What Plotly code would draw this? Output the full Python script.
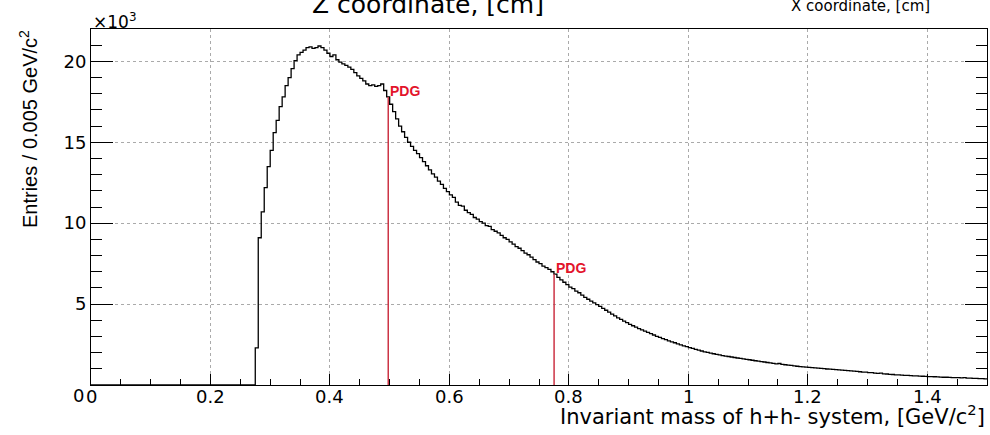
import plotly.graph_objects as go

# ---------------- data ----------------
BIN_LOW = 0.0
BIN_WIDTH = 0.005  # GeV/c^2

# entries per bin, in units of 10^3 (300 bins from 0 to 1.5)
entries_k = [
    0, 0, 0, 0, 0, 0, 0, 0, 0, 0,
    0, 0, 0, 0, 0, 0, 0, 0, 0, 0,
    0, 0, 0, 0, 0, 0, 0, 0, 0, 0,
    0, 0, 0, 0, 0, 0, 0, 0, 0, 0,
    0, 0, 0, 0, 0, 0, 0, 0, 0, 0,
    0, 0, 0, 0, 0, 2.3, 9.1, 10.7, 12.2, 13.5,
    14.5, 15.6, 16.35, 17.2, 17.8, 18.5, 19.0, 19.55, 20.05, 20.4,
    20.55, 20.7, 20.85, 20.9, 20.8, 20.85, 20.95, 20.85, 20.7, 20.5,
    20.3, 20.4, 20.1, 19.95, 19.85, 19.75, 19.65, 19.5, 19.3, 19.1,
    18.95, 18.8, 18.6, 18.5, 18.55, 18.45, 18.5, 18.6, 18.2, 17.8,
    17.35, 16.9, 16.45, 16.0, 15.65, 15.3, 15.0, 14.75, 14.5, 14.3,
    14.05, 13.8, 13.55, 13.3, 13.05, 12.85, 12.6, 12.4, 12.15, 11.95,
    11.75, 11.6, 11.3, 11.1, 11.05, 10.8, 10.65, 10.55, 10.35, 10.25,
    10.1, 10.0, 9.85, 9.8, 9.6, 9.5, 9.4, 9.25, 9.1, 9.0,
    8.85, 8.7, 8.55, 8.45, 8.3, 8.15, 8.05, 7.9, 7.75, 7.6,
    7.5, 7.35, 7.25, 7.15, 7.0, 6.85, 6.65, 6.5, 6.35, 6.2,
    6.05, 5.95, 5.8, 5.7, 5.55, 5.42, 5.3, 5.18, 5.07, 4.97,
    4.86, 4.74, 4.62, 4.5, 4.38, 4.27, 4.15, 4.05, 3.95, 3.85,
    3.75, 3.66, 3.58, 3.49, 3.41, 3.33, 3.25, 3.17, 3.09, 3.01,
    2.94, 2.87, 2.8, 2.73, 2.67, 2.61, 2.54, 2.48, 2.42, 2.37,
    2.31, 2.26, 2.2, 2.15, 2.1, 2.05, 2.01, 1.97, 1.93, 1.89,
    1.86, 1.82, 1.79, 1.76, 1.73, 1.7, 1.67, 1.64, 1.61, 1.58,
    1.56, 1.53, 1.5, 1.47, 1.44, 1.42, 1.39, 1.37, 1.34, 1.31,
    1.33, 1.27, 1.25, 1.23, 1.21, 1.18, 1.16, 1.13, 1.12, 1.1,
    1.09, 1.07, 1.06, 1.04, 1.03, 1.01, 0.99, 0.98, 0.96, 0.95,
    0.93, 0.92, 0.9, 0.89, 0.87, 0.86, 0.84, 0.82, 0.8, 0.79,
    0.77, 0.76, 0.74, 0.72, 0.74, 0.69, 0.68, 0.66, 0.65, 0.63,
    0.62, 0.61, 0.6, 0.59, 0.58, 0.57, 0.56, 0.55, 0.54, 0.53,
    0.52, 0.52, 0.51, 0.5, 0.49, 0.48, 0.48, 0.47, 0.46, 0.46,
    0.45, 0.44, 0.45, 0.43, 0.42, 0.41, 0.41, 0.4, 0.39, 0.38,
]

pdg_masses = [0.497611, 0.77526]   # K0 and rho0 PDG masses
pdg_labels = ["PDG", "PDG"]

x_tick_vals = [0, 0.2, 0.4, 0.6, 0.8, 1.0, 1.2, 1.4]
x_tick_text = ["0", "0.2", "0.4", "0.6", "0.8", "1", "1.2", "1.4"]
y_tick_vals = [5, 10, 15, 20]
y_tick_text = ["5", "10", "15", "20"]

X_RANGE = [0, 1.5]
Y_RANGE = [0, 22]

# ---------------- figure ----------------
TICK_FONT = dict(family="DejaVu Sans", size=18, color="black")

n = len(entries_k)
edges = [BIN_LOW + i * BIN_WIDTH for i in range(n + 1)]
hist_x = edges
hist_y = entries_k + [entries_k[-1]]

fig = go.Figure()
fig.add_trace(go.Scatter(
    x=hist_x, y=hist_y, mode="lines",
    line=dict(color="black", width=1.3, shape="hv"),
    hoverinfo="skip", showlegend=False,
))

for m, lab in zip(pdg_masses, pdg_labels):
    top = entries_k[int((m - BIN_LOW) / BIN_WIDTH)]
    fig.add_trace(go.Scatter(
        x=[m, m], y=[0, top], mode="lines",
        line=dict(color="#cc3344", width=1.5),
        hoverinfo="skip", showlegend=False,
    ))
    fig.add_annotation(
        x=m, y=top, xref="x", yref="y", text="<b>%s</b>" % lab,
        showarrow=False, xanchor="left", yanchor="bottom", yshift=-4,
        font=dict(family="Liberation Sans", size=14, color="#e3142b"),
    )

fig.update_xaxes(
    range=X_RANGE, showline=True, linecolor="black", linewidth=1, mirror=True,
    tickmode="array", tickvals=x_tick_vals, showticklabels=False,
    ticks="inside", ticklen=11, tickcolor="black", tickwidth=1,
    showgrid=True, gridcolor="#aaaaaa", griddash="dot", gridwidth=1,
    zeroline=False,
    minor=dict(dtick=0.05, tick0=0, ticks="inside", ticklen=6,
               tickcolor="black", showgrid=False),
)
fig.update_yaxes(
    range=Y_RANGE, showline=True, linecolor="black", linewidth=1, mirror="allticks",
    tickmode="array", tickvals=y_tick_vals, ticktext=y_tick_text,
    ticks="inside", ticklen=22, tickcolor="black", tickwidth=1,
    showgrid=True, gridcolor="#aaaaaa", griddash="dot", gridwidth=1,
    zeroline=False, tickfont=TICK_FONT,
    minor=dict(dtick=1, tick0=0, ticks="inside", ticklen=11,
               tickcolor="black", showgrid=False),
)

# x tick labels (placed closer to the axis than Plotly's default)
for v, t in zip(x_tick_vals, x_tick_text):
    fig.add_annotation(x=v, y=0, xref="x", yref="paper", text=t, showarrow=False,
                       xanchor="center", yanchor="top", yshift=1, font=TICK_FONT)

# y "0" label (drawn slightly below the axis as in the reference)
fig.add_annotation(x=0, y=0, xref="paper", yref="y", text="0", showarrow=False,
                   xanchor="right", yanchor="top", xshift=-5, yshift=2,
                   font=TICK_FONT)

# x10^3 exponent
fig.add_annotation(x=0, y=1, xref="paper", yref="paper", text="×10<sup>3</sup>",
                   showarrow=False, xanchor="left", yanchor="bottom", yshift=-5,
                   font=dict(family="DejaVu Sans", size=17, color="black"))

# axis titles
fig.add_annotation(x=1, y=0, xref="paper", yref="paper",
                   text="Invariant mass of h+h- system, [GeV/c<sup>2</sup>]",
                   showarrow=False, xanchor="right", yanchor="middle", yshift=-30,
                   font=dict(family="DejaVu Sans", size=21, color="black"))
fig.add_annotation(x=0, y=1, xref="paper", yref="paper",
                   text="Entries / 0.005 GeV/c<sup>2</sup>", textangle=-90,
                   showarrow=False, xanchor="center", yanchor="top",
                   xshift=-63, yshift=1,
                   font=dict(family="Liberation Sans", size=20, color="black"))

# clipped titles of neighbouring pads visible at the top edge
fig.add_annotation(x=(310 - 91) / 896, y=1, xref="paper", yref="paper",
                   text="Z coordinate, [cm]",
                   showarrow=False, xanchor="left", yanchor="bottom", yshift=8,
                   font=dict(family="DejaVu Sans", size=25, color="black"))
fig.add_annotation(x=1, y=1, xref="paper", yref="paper", text="X coordinate, [cm]",
                   showarrow=False, xanchor="right", yanchor="bottom", yshift=12,
                   xshift=-55,
                   font=dict(family="DejaVu Sans", size=15, color="black"))

fig.update_layout(
    width=990, height=435, autosize=False,
    margin=dict(l=91, r=3, t=29, b=50),
    paper_bgcolor="white", plot_bgcolor="white",
    showlegend=False,
)

fig.write_html("out.html")
